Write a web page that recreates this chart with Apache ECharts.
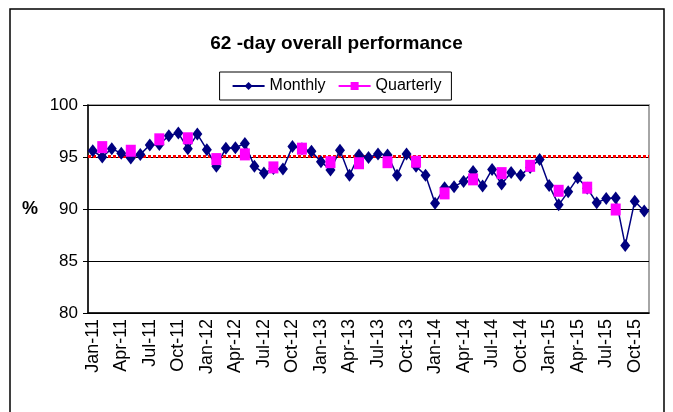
<!DOCTYPE html>
<html lang="en">
<head>
    <meta charset="UTF-8">
    <title>62-day overall performance</title>
    <script src="https://cdn.jsdelivr.net/npm/echarts@6/dist/echarts.min.js"></script>
    <style type="text/css">
    html, body { margin:0; padding:0; background:#fff; }
    #chart { width:673px; height:412px; }
    </style>
</head>
<body>
<div id="chart"></div>
<script type="text/javascript">
    // month labels, Jan-11 .. Nov-15
    var months = [
      'Jan-11','Feb-11','Mar-11','Apr-11','May-11','Jun-11','Jul-11','Aug-11','Sep-11','Oct-11','Nov-11','Dec-11',
      'Jan-12','Feb-12','Mar-12','Apr-12','May-12','Jun-12','Jul-12','Aug-12','Sep-12','Oct-12','Nov-12','Dec-12',
      'Jan-13','Feb-13','Mar-13','Apr-13','May-13','Jun-13','Jul-13','Aug-13','Sep-13','Oct-13','Nov-13','Dec-13',
      'Jan-14','Feb-14','Mar-14','Apr-14','May-14','Jun-14','Jul-14','Aug-14','Sep-14','Oct-14','Nov-14','Dec-14',
      'Jan-15','Feb-15','Mar-15','Apr-15','May-15','Jun-15','Jul-15','Aug-15','Sep-15','Oct-15','Nov-15'
    ];
    var monthly = [
      95.6, 95.0, 95.8, 95.35, 94.9, 95.25, 96.15, 96.2, 97.05, 97.3, 95.8, 97.2,
      95.7, 94.1, 95.85, 95.9, 96.3, 94.1, 93.45, 93.9, 93.85, 96.0, 95.8, 95.55,
      94.55, 93.75, 95.65, 93.25, 95.2, 94.95, 95.3, 95.2, 93.25, 95.3, 94.1, 93.25,
      90.55, 92.05, 92.15, 92.65, 93.6, 92.2, 93.8, 92.4, 93.5, 93.25, 94.0, 94.75,
      92.25, 90.4, 91.65, 93.0, 92.0, 90.6, 91.0, 91.05, 86.5, 90.75, 89.8
    ];
    // quarterly figures sit on the middle month of each quarter
    var quarterly = [
      null, 95.95, null, null, 95.6, null, null, 96.7, null, null, 96.8, null,
      null, 94.8, null, null, 95.25, null, null, 94.0, null, null, 95.8, null,
      null, 94.5, null, null, 94.4, null, null, 94.5, null, null, 94.55, null,
      null, 91.5, null, null, 92.85, null, null, 93.45, null, null, 94.15, null,
      null, 91.75, null, null, 92.05, null, null, 89.95, null, null, null
    ];
    var target = 95.1;
    var yTicks = [80, 85, 90, 95, 100];

    var font = 'Liberation Sans, Arial, sans-serif';
    var myChart = echarts.init(document.getElementById('chart'));
    var option = {
      backgroundColor: '#fff',
      animation: false,
      title: {
        text: '62 -day overall performance',
        left: 'center',
        top: 29,
        textStyle: { fontFamily: font, fontSize: 19, fontWeight: 'bold', color: '#000' }
      },
      legend: {
        top: 72,
        left: 'center',
        data: ['Monthly', 'Quarterly'],
        borderColor: '#000',
        borderWidth: 1,
        padding: [6, 10, 6, 12],
        itemWidth: 32,
        itemHeight: 10,
        itemGap: 12,
        textStyle: { fontFamily: font, fontSize: 16, color: '#000' }
      },
      grid: {
        left: 88, right: 24, top: 105, bottom: 99,
        show: true, borderColor: '#a6a6a6', borderWidth: 2
      },
      graphic: [{
        type: 'rect',
        shape: { x: 10, y: 9, width: 654, height: 420 },
        style: { fill: 'none', stroke: '#000', lineWidth: 1.5 },
        silent: true
      }],
      xAxis: {
        type: 'category',
        data: months,
        boundaryGap: true,
        axisLine: { lineStyle: { color: '#000', width: 1.5 } },
        axisTick: { interval: 0, length: 5, lineStyle: { color: '#000' } },
        axisLabel: {
          interval: 2, rotate: 90, margin: 6,
          fontFamily: font, fontSize: 18, color: '#000'
        }
      },
      yAxis: {
        type: 'value',
        min: yTicks[0], max: yTicks[yTicks.length - 1], interval: 5,
        name: '%',
        nameLocation: 'middle',
        nameRotate: 0,
        nameGap: 50,
        nameTextStyle: { fontFamily: font, fontSize: 18, fontWeight: 'bold', color: '#000' },
        axisLine: { show: true, lineStyle: { color: '#000', width: 1.5 } },
        axisTick: { show: true, length: 5, lineStyle: { color: '#000' } },
        axisLabel: { margin: 10, fontFamily: font, fontSize: 17, color: '#000' },
        splitLine: { lineStyle: { color: '#000', width: 1.2 } }
      },
      series: [
        {
          name: 'Monthly',
          type: 'line',
          data: monthly,
          symbol: 'diamond',
          symbolSize: [10, 13],
          showAllSymbol: true,
          itemStyle: { color: '#000080' },
          lineStyle: { color: '#000080', width: 1.5 },
          z: 3,
          markLine: {
            silent: true,
            symbol: 'none',
            label: { show: false },
            lineStyle: { color: '#ff0000', type: [3, 2], width: 3 },
            data: [{ yAxis: target }],
            z: 2
          }
        },
        {
          name: 'Quarterly',
          type: 'line',
          data: quarterly,
          symbol: 'rect',
          symbolSize: [10, 12],
          showAllSymbol: true,
          connectNulls: false,
          itemStyle: { color: '#ff00ff' },
          lineStyle: { color: '#ff00ff', width: 1.5 },
          z: 4
        }
      ]
    };
    myChart.setOption(option);
</script>
</body>
</html>
